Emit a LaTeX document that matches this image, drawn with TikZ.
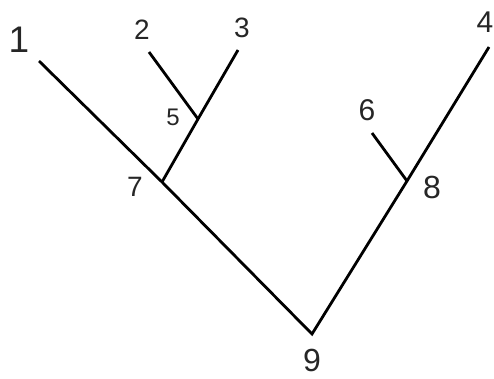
\documentclass[tikz,border=0pt]{standalone}
\usepackage{fontspec}
\setmainfont{Liberation Sans}
\begin{document}
\begin{tikzpicture}[x=1pt,y=-1pt,
  branch/.style={line width=2.8pt,line cap=butt},
  lbl/.style={inner sep=0pt,text=black!85}]
\useasboundingbox (0,0) rectangle (494,378);
% tree points
\coordinate (p1) at (39,61);
\coordinate (p2) at (149,52);
\coordinate (p3) at (238,50);
\coordinate (p4) at (489,47);
\coordinate (p6) at (372,133);
\coordinate (p5) at (198,119);
\coordinate (p7) at (162,182);
\coordinate (p8) at (407,181);
\coordinate (p9) at (312,334);
% branches
\draw[branch] (p1) -- (p7) -- (p9) -- (p8) -- (p4);
\draw[branch] (p2) -- (p5);
\draw[branch] (p3) -- (p5) -- (p7);
\draw[branch] (p6) -- (p8);
% labels
\node[lbl,font=\fontsize{37}{37}\selectfont] (l1) at (19,40) {1};
\node[lbl,font=\fontsize{28}{28}\selectfont] (l2) at (142,30) {2};
\node[lbl,font=\fontsize{28}{28}\selectfont] (l3) at (242,28) {3};
\node[lbl,font=\fontsize{30}{30}\selectfont] (l4) at (485,22) {4};
\node[lbl,font=\fontsize{24}{24}\selectfont] (l5) at (173,117) {5};
\node[lbl,font=\fontsize{30}{30}\selectfont] (l6) at (367,110) {6};
\node[lbl,font=\fontsize{28}{28}\selectfont] (l7) at (135,187) {7};
\node[lbl,font=\fontsize{32}{32}\selectfont] (l8) at (432,187) {8};
\node[lbl,font=\fontsize{32}{32}\selectfont] (l9) at (312,360) {9};
\end{tikzpicture}
\end{document}
